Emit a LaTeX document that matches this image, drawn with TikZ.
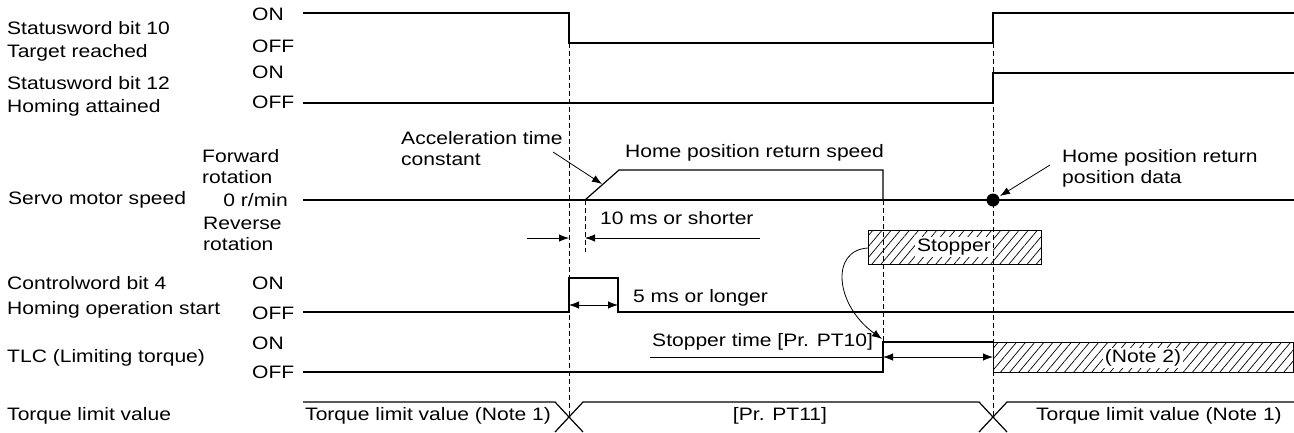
\documentclass[tikz,border=0pt]{standalone}
\usepackage{fontspec}
\setmainfont{Liberation Sans}[FakeStretch=1.17]
\usetikzlibrary{arrows.meta,patterns.meta,positioning}

\begin{document}
\begin{tikzpicture}[
    x=1pt, y=-1pt,
    txt/.style={inner sep=0pt, font=\fontsize{18}{21}\selectfont, align=left},
    lbl/.style={txt, anchor=west},
    sig/.style={line width=1.2pt},
    guide/.style={line width=0.8pt, dash pattern=on 4.5pt off 3.5pt},
    arrow/.style={-{Latex[length=10pt,width=7.5pt]}, line width=0.8pt},
    dim/.style={{Latex[length=10pt,width=7.5pt]}-{Latex[length=10pt,width=7.5pt]}, line width=0.8pt},
    hatch/.style={draw, line width=1pt, pattern={Lines[angle=50,distance=7pt,line width=0.7pt]}}
  ]
    \useasboundingbox (0,0) rectangle (1294,432);

    % signal names
    \node[lbl] (sw10) at (7,28) {Statusword bit 10};
    \node[lbl] (tgt) at (7,53) {Target reached};
    \node[lbl] (sw12) at (7,83) {Statusword bit 12};
    \node[lbl] (hom) at (7,108) {Homing attained};
    \node[lbl] (speed) at (8,200) {Servo motor speed};
    \node[lbl] (cw4) at (7,283) {Controlword bit 4};
    \node[lbl] (hstart) at (7,310) {Homing operation start};
    \node[lbl] (tlc) at (7,358) {TLC (Limiting torque)};
    \node[lbl] (tlim) at (7,416) {Torque limit value};

    % levels
    \node[lbl] (on1) at (252,14) {ON};
    \node[lbl] (off1) at (252,46) {OFF};
    \node[lbl] (on2) at (252,72) {ON};
    \node[lbl] (off2) at (252,102) {OFF};
    \node[lbl] (fwd) at (202,167) {Forward\\rotation};
    \node[txt, anchor=east] (zero) at (288,200) {0 r/min};
    \node[lbl] (rev) at (203,234) {Reverse\\rotation};
    \node[lbl] (on5) at (252,283) {ON};
    \node[lbl] (off5) at (252,313) {OFF};
    \node[lbl] (on6) at (252,343) {ON};
    \node[lbl] (off6) at (252,372) {OFF};

    % guide lines
    \draw[guide] (569,43) -- (569,417);
    \draw[guide] (993,43) -- (993,417);
    \draw[guide] (585,200) -- (585,252);
    \draw[guide] (883,200) -- (883,342);

    % waveforms
    \draw[sig] (303,13) -- (569,13) -- (569,43) -- (993,43) -- (993,13) -- (1294,13);
    \draw[sig] (303,103) -- (993,103) -- (993,73) -- (1294,73);
    \draw[sig] (303,200) -- (1294,200);
    \draw[sig] (585,200) -- (619,170) -- (883,170) -- (883,200);
    \fill (993,200) circle (6.5);
    \draw[sig] (303,312) -- (569,312) -- (569,278) -- (618,278) -- (618,312) -- (1294,312);
    \draw[sig] (303,372) -- (883,372) -- (883,342) -- (993,342);
    \draw[sig, hatch] (993,342) rectangle (1293,372);
    \draw[sig] (303,402) -- (555,402) -- (583,432);
    \draw[sig] (555,432) -- (583,402) -- (979,402) -- (1007,432);
    \draw[sig] (979,432) -- (1007,402) -- (1294,402);

    % stopper
    \draw[hatch] (868,230) rectangle (1041,264);
    \node[txt, fill=white, inner sep=2pt] (stopper) at (954,247) {Stopper};
    \node[txt, fill=white, inner sep=2pt] (note2) at (1143,358) {(Note 2)};

    % annotations
    \node[lbl] (accel) at (401,149) {Acceleration time\\constant};
    \node[lbl] (hspeed) at (625,153) {Home position return speed};
    \node[lbl] (hdata) at (1062,168) {Home position return\\position data};
    \node[lbl] (tshort) at (600,218) {10 ms or shorter};
    \node[lbl] (tlong) at (633,298) {5 ms or longer};
    \node[lbl] (tstop) at (652,342) {Stopper time [Pr. PT10]};
    \node[lbl] (tl1) at (305,416) {Torque limit value (Note 1)};
    \node[txt] (pt11) at (780,416) {[Pr. PT11]};
    \node[txt, anchor=east] (tl2) at (1282,416) {Torque limit value (Note 1)};

    \coordinate (accFrom) at (553,152);
    \coordinate (accTip) at (602,184);
    \coordinate (dataFrom) at (1050,165);
    \coordinate (dataTip) at (1000,196);
    \coordinate (stopL) at (868,248);
    \coordinate (tlcTip) at (882,339);

    \draw[arrow] (accFrom) -- (accTip);
    \draw[arrow] (dataFrom) -- (dataTip);
    \draw[arrow] (527,238) -- (569,238);
    \draw[arrow] (760,238) -- (585,238);
    \draw[dim] (569,305) -- (618,305);
    \draw[line width=0.8pt] (650,357) -- (883,357);
    \draw[dim] (883,357) -- (993,357);
    \draw[arrow] (stopL) .. controls (830,250) and (835,305) .. (tlcTip);
  \end{tikzpicture}
\end{document}
